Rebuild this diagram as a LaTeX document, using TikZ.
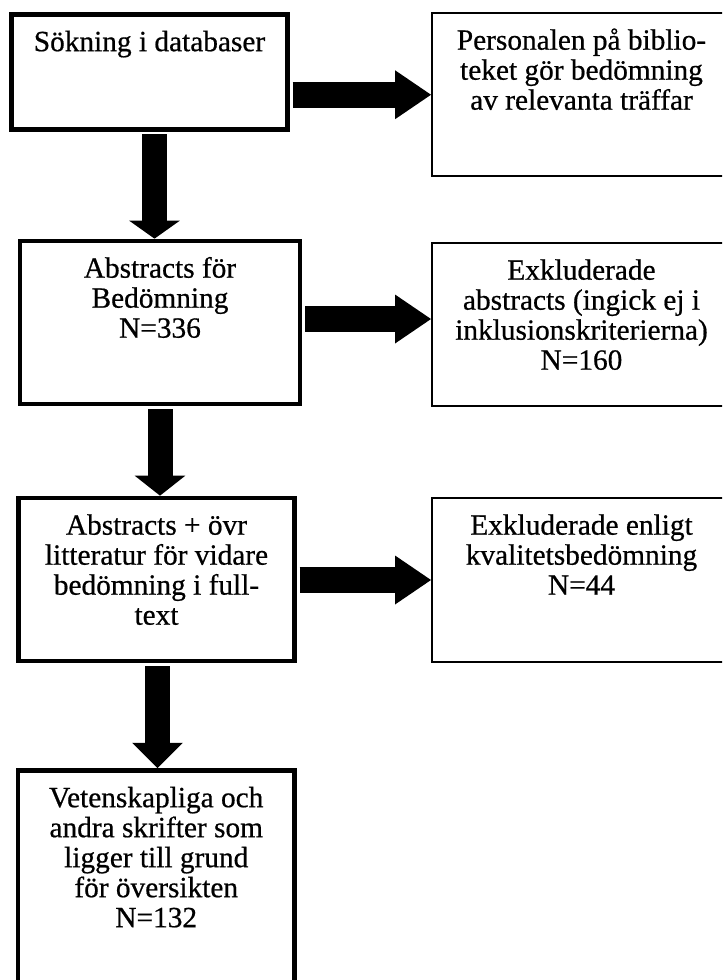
\documentclass[tikz,border=0pt]{standalone}
\usepackage{fontspec}
\setmainfont{Liberation Serif}
\newfontfamily\heavyserif[FakeBold=0.6]{Liberation Serif}
\usetikzlibrary{arrows.meta,calc}
\newcommand{\boxcontent}[3]{\parbox[c][#2][t]{#1}{\centering\rule{0pt}{27.5pt}#3}}
\begin{document}
\begin{tikzpicture}[x=0.75pt,y=-0.75pt,
  thickbox/.style={draw=black,line width=3.5pt,inner sep=0pt,fill=white,font=\heavyserif\fontsize{22pt}{22.5pt}\selectfont},
  thinbox/.style={draw=black,line width=1.5pt,inner sep=0pt,fill=white,font=\heavyserif\fontsize{22pt}{22.5pt}\selectfont},
  harr/.style={line width=19.5pt,shorten <=2pt,-{Triangle[length=27pt,width=36.75pt,line width=0pt]}},
  varr/.style={line width=18.75pt,shorten <=2pt,-{Triangle[length=#1,width=38pt,line width=0pt]}}]
\useasboundingbox (0,0) rectangle (722,980);
\fill[white] (0,0) rectangle (722,980);
\clip (0,0) rectangle (722,980);

\node[thickbox] (b1) at (149.5,72) {\boxcontent{207pt}{86.25pt}{Sökning i databaser}};
\node[thinbox] (b2) at (581.5,94.75) {\boxcontent{224.25pt}{122.6pt}{Personalen på biblio-\\teket gör bedömning\\av relevanta träffar}};
\node[thickbox] (b3) at (160,322.5) {\boxcontent{210pt}{122.25pt}{Abstracts för\\Bedömning\\N=336}};
\node[thinbox] (b4) at (581.5,324.75) {\boxcontent{224.25pt}{122.6pt}{Exkluderade\\abstracts (ingick ej i\\inklusionskriterierna)\\N=160}};
\node[thickbox] (b5) at (156.5,579.5) {\boxcontent{207pt}{122.25pt}{Abstracts + övr\\litteratur för vidare\\bedömning i full-\\text}};
\node[thinbox] (b6) at (581.5,580) {\boxcontent{224.25pt}{123pt}{Exkluderade enligt\\kvalitetsbedömning\\N=44}};
\node[thickbox] (b7) at (156.25,885.25) {\boxcontent{207.4pt}{172.1pt}{Vetenskapliga och\\andra skrifter som\\ligger till grund\\för översikten\\N=132}};

\coordinate (t2) at ([yshift=4.3pt]b4.west);
\coordinate (s1) at ([xshift=3.75pt]b1.south);
\coordinate (s3) at ([xshift=0.75pt]b5.south);

\draw[harr] (b1.east |- b2.west) -- (b2.west);
\draw[harr] (b3.east |- t2) -- (t2);
\draw[harr] (b5.east |- b6.west) -- (b6.west);

\draw[varr=13.5pt] (s1) -- (s1 |- b3.north);
\draw[varr=15pt] (b3.south) -- (b3.south |- b5.north);
\draw[varr=19pt] (s3) -- (s3 |- b7.north);
\end{tikzpicture}
\end{document}
